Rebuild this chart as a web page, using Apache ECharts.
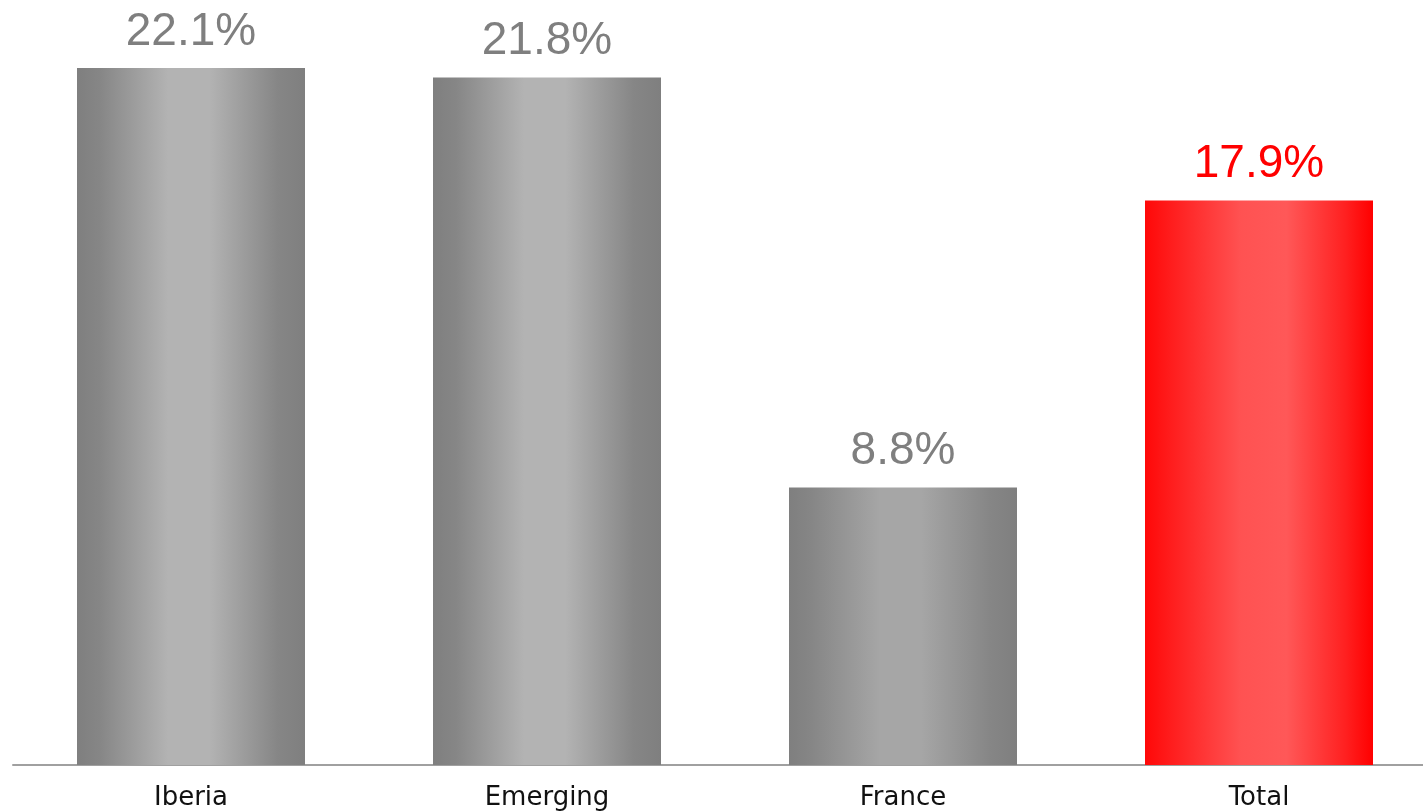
<!DOCTYPE html>
<html>
<head>
<meta charset="utf-8">
<script src="https://cdn.jsdelivr.net/npm/echarts@6/dist/echarts.min.js"></script>
<style>
  html, body { margin: 0; padding: 0; background: #fff; overflow: hidden; }
  #chart { width: 1437px; height: 811px; }
</style>
</head>
<body>
<div id="chart"></div>
<script>
// Segment names and their values (percent)
const categories = ['Iberia', 'Emerging', 'France', 'Total'];
const values = [22.1, 21.8, 8.8, 17.9];
const highlight = [false, false, false, true];

function grayGradient(center) {
  return new echarts.graphic.LinearGradient(0, 0, 1, 0, [
    { offset: 0, color: '#7f7f7f' },
    { offset: 0.1, color: '#868686' },
    { offset: 0.4, color: center },
    { offset: 0.58, color: center },
    { offset: 0.88, color: '#868686' },
    { offset: 1, color: '#7f7f7f' }
  ]);
}
function redGradient() {
  return new echarts.graphic.LinearGradient(0, 0, 1, 0, [
    { offset: 0, color: '#ff0808' },
    { offset: 0.12, color: '#ff1e1e' },
    { offset: 0.42, color: '#ff5252' },
    { offset: 0.62, color: '#ff5858' },
    { offset: 0.88, color: '#ff2020' },
    { offset: 1, color: '#ff0000' }
  ]);
}

const seriesData = values.map((v, i) => ({
  value: v,
  itemStyle: { color: highlight[i] ? redGradient() : grayGradient(i === 2 ? '#a6a6a6' : '#b3b3b3') },
  label: { color: highlight[i] ? '#ff0000' : '#7f7f7f' }
}));

const chart = echarts.init(document.getElementById('chart'), null, { renderer: 'canvas' });
chart.setOption({
  animation: false,
  backgroundColor: '#ffffff',
  grid: { left: 13, top: 8, right: 0, bottom: 46, containLabel: false },
  xAxis: {
    type: 'category',
    data: categories,
    axisLine: { lineStyle: { color: '#a0a0a0', width: 2 } },
    axisTick: { show: false },
    axisLabel: {
      color: '#111111',
      fontFamily: 'DejaVu Sans',
      fontSize: 26,
      margin: 20
    }
  },
  yAxis: {
    type: 'value',
    min: 0,
    max: 24,
    show: false,
    splitLine: { show: false }
  },
  series: [{
    type: 'bar',
    barWidth: 228,
    data: seriesData,
    label: {
      show: true,
      position: 'top',
      distance: 13,
      fontFamily: 'Liberation Sans',
      fontSize: 46,
      formatter: p => p.value.toFixed(1) + '%'
    }
  }]
});
</script>
</body>
</html>
